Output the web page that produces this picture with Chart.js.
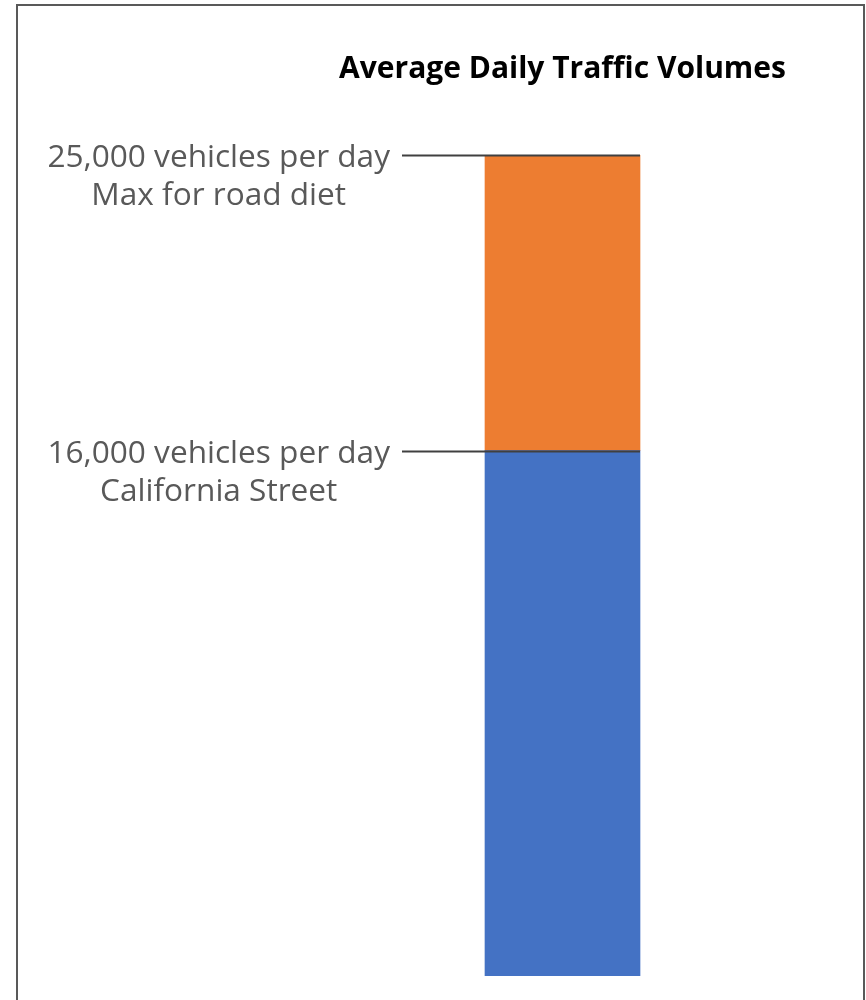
<!DOCTYPE html>
<html>
<head>
<meta charset="utf-8">
<script src="https://cdn.jsdelivr.net/npm/chart.js@4.4.1/dist/chart.umd.min.js"></script>
<style>
  html, body { margin: 0; padding: 0; background: #ffffff; overflow: hidden; }
  #frame { position: absolute; left: 16px; top: 4px; width: 845px; height: 1010px; border: 2px solid #595959; background: #fff; }
  #wrap { position: absolute; left: 0; top: 0; width: 845px; height: 994px; }
</style>
</head>
<body>
<div id="frame"><div id="wrap"><canvas id="c"></canvas></div></div>
<script>
const categories = ["California Street"];
const currentVolume = [16000];        // California Street ADT
const remainingCapacity = [9000];     // up to 25,000 max for road diet
const axisMax = 25000;
const thresholdValues = [25000, 16000];
const thresholdLabel1 = ["25,000 vehicles per day", "16,000 vehicles per day"];
const thresholdLabel2 = ["Max for road diet", "California Street"];
const chartTitle = "Average Daily Traffic Volumes";

const thresholdPlugin = {
  id: 'thresholds',
  afterDatasetsDraw(chart) {
    const ctx = chart.ctx;
    const y = chart.scales.y;
    const bar = chart.getDatasetMeta(0).data[0];
    const barLeft = bar.x - bar.width / 2;
    const barRight = bar.x + bar.width / 2;
    const lineStart = barLeft - 83;
    ctx.save();
    thresholdValues.forEach((v, i) => {
      const py = Math.round(y.getPixelForValue(v)) + 0.5;
      ctx.strokeStyle = '#404040';
      ctx.lineWidth = 2;
      ctx.beginPath();
      ctx.moveTo(lineStart, py);
      ctx.lineTo(barRight, py);
      ctx.stroke();
      ctx.fillStyle = '#595959';
      ctx.font = '31.6px "Open Sans", sans-serif';
      ctx.textBaseline = 'middle';
      ctx.textAlign = 'right';
      const rx = lineStart - 12;
      ctx.fillText(thresholdLabel1[i], rx, py + 2);
      const w = ctx.measureText(thresholdLabel1[i]).width;
      ctx.textAlign = 'center';
      ctx.fillText(thresholdLabel2[i], rx - w / 2, py + 40);
    });
    ctx.restore();
  }
};

new Chart(document.getElementById('c'), {
  type: 'bar',
  data: {
    labels: categories,
    datasets: [
      { label: 'Current', data: currentVolume, backgroundColor: '#4472C4', barThickness: 155, borderWidth: 0 },
      { label: 'Remaining capacity', data: remainingCapacity, backgroundColor: '#ED7D31', barThickness: 155, borderWidth: 0 }
    ]
  },
  options: {
    responsive: true,
    maintainAspectRatio: false,
    animation: false,
    layout: { padding: { left: 294.5, right: 50.5, top: 0, bottom: 24 } },
    plugins: {
      legend: { display: false },
      tooltip: { enabled: false },
      title: {
        display: true,
        text: chartTitle,
        fullSize: false,
        color: '#000000',
        font: { family: '"Open Sans", sans-serif', size: 30, weight: 'bold', lineHeight: 1.2 },
        padding: { top: 45.5, bottom: 67.5 }
      }
    },
    scales: {
      x: { stacked: true, display: false, grid: { display: false } },
      y: { stacked: true, display: false, min: 0, max: axisMax, grid: { display: false } }
    }
  },
  plugins: [thresholdPlugin]
});
</script>
</body>
</html>
